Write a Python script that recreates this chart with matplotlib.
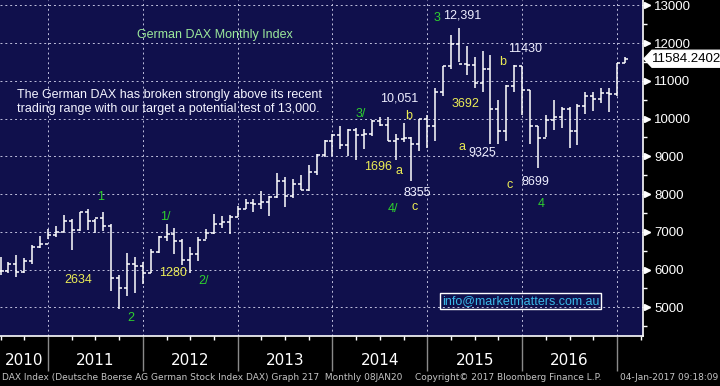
import matplotlib
matplotlib.use("Agg")
import matplotlib.pyplot as plt
import matplotlib.transforms as mtransforms
from matplotlib.patches import Polygon, Rectangle
import numpy as np
import pandas as pd

# monthly DAX bars, Jun 2010 .. Jan 2017
months = pd.period_range("2010-06", "2017-01", freq="M")
opens = [5964, 5966, 6148, 5925, 6229, 6601, 6688,
         6914, 6989, 7273, 7041, 7514, 7294, 7376, 7159, 5785, 5502, 6141, 6089,
         5898, 6458, 6856, 6947, 6761, 6264, 6416, 6772, 6971, 7216, 7260, 7405,
         7612, 7776, 7742, 7795, 7914, 8349, 7959, 8276, 8103, 8594, 9033, 9406,
         9552, 9306, 9692, 9556, 9603, 9943, 9833, 9407, 9470, 9474, 9327, 9980,
         9806, 10694, 11402, 11966, 11454, 11414, 10945, 11309, 10259, 9660, 10850, 11382,
         10743, 9798, 9495, 9966, 10039, 10263, 9680, 10337, 10593, 10511, 10665, 10640,
         11481]
highs = [6341, 6201, 6386, 6300, 6641, 6878, 7087,
         7162, 7444, 7330, 7527, 7600, 7331, 7523, 7200, 5860, 6430, 6343, 6207,
         6542, 6900, 7194, 7100, 6800, 6590, 6850, 7080, 7479, 7412, 7450, 7672,
         7871, 7869, 8074, 7938, 8558, 8446, 8400, 8500, 8770, 9050, 9425, 9594,
         9794, 9720, 9740, 9736, 9950, 10051, 10032, 9600, 9891, 9500, 10000, 10093,
         10810, 11402, 12219, 12391, 11920, 11636, 11802, 11670, 10500, 10900, 11430, 11400,
         10750, 9800, 10100, 10486, 10300, 10300, 10393, 10700, 10700, 10800, 10800, 11481,
         11620]
lows = [5860, 5900, 5809, 5918, 6143, 6569, 6814,
        6853, 6988, 6514, 7011, 7050, 6958, 7020, 5434, 4965, 5300, 5366, 5613,
        5900, 6430, 6765, 6413, 6125, 5915, 6226, 6800, 6930, 7100, 6950, 7390,
        7610, 7513, 7600, 7420, 7900, 7655, 7900, 8100, 8080, 8500, 8990, 9000,
        9200, 9014, 8900, 9200, 9550, 9800, 9400, 8903, 9380, 8355, 9150, 9219,
        9400, 10600, 11300, 11500, 11150, 10800, 10700, 9338, 9325, 9400, 10700, 10100,
        9315, 8699, 9500, 9700, 9737, 9214, 9300, 10120, 10200, 10400, 10175, 10600,
        11460]
closes = [5966, 6148, 5925, 6229, 6601, 6688, 6914,
          6989, 7273, 7041, 7514, 7294, 7376, 7159, 5785, 5502, 6141, 6089, 5898,
          6458, 6856, 6947, 6761, 6264, 6416, 6772, 6971, 7216, 7260, 7405, 7612,
          7776, 7742, 7795, 7914, 8349, 7959, 8276, 8103, 8594, 9033, 9406, 9552,
          9306, 9692, 9556, 9603, 9943, 9833, 9407, 9470, 9474, 9327, 9980, 9806,
          10694, 11402, 11966, 11454, 11414, 10945, 11309, 10259, 9660, 10850, 11382, 10743,
          9798, 9495, 9966, 10039, 10263, 9680, 10337, 10593, 10511, 10665, 10640, 11481,
          11584.2402]
years = [2010, 2011, 2012, 2013, 2014, 2015, 2016]

# wave labels: (text, month, price, colour)
labels = [
    ("3", "2015-01", 12664, "green"), ("12,391", "2015-04", 12717, "white"),
    ("11430", "2015-12", 11842, "white"), ("b", "2015-09", 11498, "yellow"),
    ("3692", "2015-04", 10385, "yellow"), ("10,051", "2014-08", 10518, "white"),
    ("b", "2014-09", 10067, "yellow"), ("3/", "2014-03", 10121, "green"),
    ("1696", "2014-05", 8717, "yellow"), ("a", "2014-08", 8611, "yellow"),
    ("8355", "2014-10", 8028, "white"), ("4/", "2014-07", 7604, "green"),
    ("c", "2014-10", 7657, "yellow"), ("a", "2015-04", 9248, "yellow"),
    ("9325", "2015-07", 9087, "white"), ("c", "2015-10", 8240, "yellow"),
    ("8699", "2016-01", 8319, "white"), ("4", "2016-02", 7736, "green"),
    ("1", "2011-06", 7922, "green"), ("2634", "2011-03", 5728, "yellow"),
    ("2", "2011-10", 4721, "green"), ("1/", "2012-02", 7393, "green"),
    ("1280", "2012-03", 5909, "yellow"), ("2/", "2012-07", 5697, "green"),
]
label_dx = {"3": 0.2, "12,391": 0.4, "11430": 0.4, "b": 0.6, "3692": 0.8, "10,051": 0.5,
            "3/": 0.6, "1696": 0.8, "a": 0.4, "8355": 0.7, "4/": 0.7, "c": 0.4,
            "9325": -0.1, "8699": 0.7, "4": 0.4, "1": 0.6, "2634": 0.8, "2": 0.5,
            "1/": 0.8, "1280": 0.8, "2/": 0.7}

COLORS = {"green": "#2ed12e", "yellow": "#ecec55", "white": "#eeeeff"}
BG = "#10104c"
FONT = ["Liberation Sans", "DejaVu Sans"]
NARROW = ["Liberation Sans Narrow", "DejaVu Sans"]

plt.rcParams["font.family"] = FONT

fig = plt.figure(figsize=(7.2, 3.86), dpi=100, facecolor="black")
ax = fig.add_axes([0, 50 / 386, 643 / 720, 336 / 386], facecolor=BG)

idx = np.arange(len(months))
tick = 0.38
ax.vlines(idx, lows, highs, color="white", lw=1.1)
ax.hlines(opens, idx - tick, idx, color="white", lw=1.1)
ax.hlines(closes, idx, idx + tick, color="white", lw=1.1)

ax.set_xlim(-0.074, 81.3)
ax.set_ylim(4240, 13140)

# year boundaries sit on the December bar
year_idx = [i for i, m in enumerate(months) if m.month == 12]
ax.set_xticks(year_idx)
ax.set_xticks(np.arange(0, len(months) + 3, 3), minor=True)
ax.tick_params(axis="x", which="major", length=25, width=1, color="#8a8a8a",
               labelbottom=False)
ax.tick_params(axis="x", which="minor", length=3, width=1, color="white")

ax.yaxis.tick_right()
ax.set_yticks(np.arange(5000, 13001, 1000))
ax.set_yticks(np.arange(4500, 13001, 500), minor=True)
ax.tick_params(axis="y", which="major", length=5, width=1, color="white",
               labelcolor="white", labelsize=9.5, pad=3)
ax.tick_params(axis="y", which="minor", length=3, width=1, color="white")
trans_y = mtransforms.blended_transform_factory(ax.transAxes, ax.transData)
ax.plot(np.full(9, 1.006), np.arange(5000, 13001, 1000), ls="none", marker=">",
        ms=4.5, color="white", transform=trans_y, clip_on=False)

ax.grid(True, which="major", color="#c0c0dd", ls=(0, (2, 3)), lw=0.7)

for side in ["top", "left"]:
    ax.spines[side].set_visible(False)
ax.spines["right"].set_color("white")
ax.spines["bottom"].set_color("white")
ax.spines["right"].set_linewidth(1.2)
ax.spines["bottom"].set_linewidth(1.2)

# year labels
trans_x = mtransforms.blended_transform_factory(ax.transData, ax.transAxes)
for y in years:
    pos = [i for i, m in enumerate(months) if m.year == y]
    centre = (max(pos[0] - 1, -0.074) + pos[-1]) / 2 if y == 2010 else pos[0] - 1 + 6
    if y == 2010:
        centre = (-0.074 + pos[-1]) / 2
    ax.text(centre, -0.074, str(y), transform=trans_x, ha="center", va="center",
            color="white", fontsize=11, family=NARROW)

# last price tag
last = closes[-1]
h = 225
tag = Polygon([(644 / 643, last), (652 / 643, last + h), (1.125, last + h),
               (1.125, last - h), (652 / 643, last - h)], closed=True,
              facecolor="white", edgecolor="white", transform=trans_y, clip_on=False)
ax.add_patch(tag)
ax.text(652 / 643, last, f"{last:.4f}", transform=trans_y, va="center", ha="left",
        color="black", fontsize=9.5)

# header and commentary
ax.text(0.334, 0.896, "German DAX Monthly Index", transform=ax.transAxes,
        ha="center", va="center", color="#9be89b", fontsize=9)
ax.text(0.0264, 0.696,
        "The German DAX has broken strongly above its recent\n"
        "trading range with our target a potential test of 13,000.",
        transform=ax.transAxes, ha="left", va="center", color="#f4f4ff",
        fontsize=9, linespacing=1.3)

month_list = [str(m) for m in months]
for text, mon, price, col in labels:
    x = month_list.index(mon) + label_dx.get(text, 0.5)
    ax.text(x, price, text, ha="center", va="center", color=COLORS[col], fontsize=9)

# email box
ax.text(0.81, 0.104, "info@marketmatters.com.au", transform=ax.transAxes,
        ha="center", va="center", color="#3bb8e8", fontsize=9,
        bbox=dict(boxstyle="square,pad=0.15", facecolor="none", edgecolor="white", lw=1))

# footer
fcol = "#c4c4c4"
fig.text(2 / 720, 1 - 378 / 386, "DAX Index (Deutsche Boerse AG German Stock Index DAX) Graph 217  Monthly 08JAN20",
         ha="left", va="center", color=fcol, fontsize=6.5, family=NARROW)
fig.text(415 / 720, 1 - 378 / 386, "Copyright\u00a9 2017 Bloomberg Finance L.P.",
         ha="left", va="center", color=fcol, fontsize=6.5, family=NARROW)
fig.text(718 / 720, 1 - 378 / 386, "04-Jan-2017 09:18:09",
         ha="right", va="center", color=fcol, fontsize=6.5, family=NARROW)

fig.savefig("out.png", dpi=100, facecolor="black")
